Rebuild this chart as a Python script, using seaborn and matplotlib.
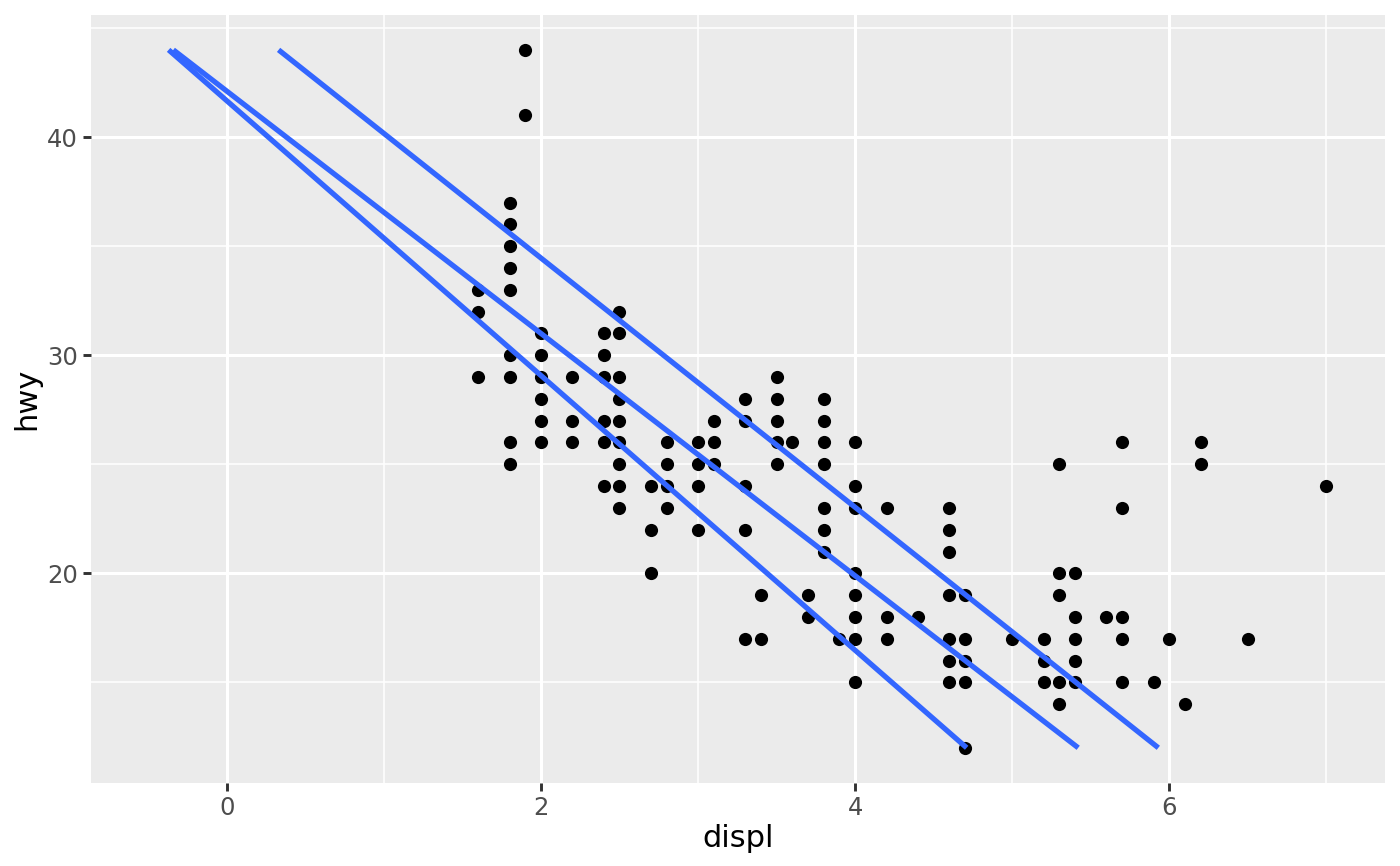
import pandas as pd
import matplotlib.pyplot as plt
import seaborn as sns

# hwy values seen at each displ (overlapping points drawn once)
displ_vals = [1.6, 1.8, 1.9, 2.0, 2.2, 2.4, 2.5, 2.7, 2.8, 3.0, 3.1, 3.3, 3.4,
              3.5, 3.6, 3.7, 3.8, 3.9, 4.0, 4.2, 4.4, 4.6, 4.7, 5.0, 5.2, 5.3,
              5.4, 5.6, 5.7, 5.9, 6.0, 6.1, 6.2, 6.5, 7.0]
hwy_by_displ = [
    [33, 32, 29],
    [37, 36, 35, 34, 33, 30, 29, 26, 25],
    [44, 41],
    [31, 30, 29, 28, 27, 26],
    [29, 27, 26],
    [31, 30, 29, 27, 26, 24],
    [32, 31, 29, 28, 27, 26, 25, 24, 23],
    [24, 22, 20],
    [26, 25, 24, 23],
    [26, 25, 24, 22],
    [27, 26, 25],
    [28, 27, 24, 22, 17],
    [19, 17],
    [29, 28, 27, 26, 25],
    [26],
    [19, 18],
    [28, 27, 26, 25, 23, 22, 21],
    [17],
    [26, 24, 23, 20, 19, 18, 17, 15],
    [23, 18, 17],
    [18],
    [23, 22, 21, 19, 17, 16, 15],
    [19, 17, 16, 15, 12],
    [17],
    [17, 16, 15],
    [25, 20, 19, 15, 14],
    [20, 18, 17, 16, 15],
    [18],
    [26, 23, 18, 17, 15],
    [15],
    [17],
    [14],
    [26, 25],
    [17],
    [24],
]

# quantile lines (displ on hwy), read at hwy = 12 and hwy = 44
line_hwy = [12, 44]
q25_displ = [4.71, -0.37]
q50_displ = [5.42, -0.34]
q75_displ = [5.93, 0.33]

pts = pd.DataFrame(
    [(d, h) for d, hs in zip(displ_vals, hwy_by_displ) for h in hs],
    columns=["displ", "hwy"],
)
lines = pd.concat([
    pd.DataFrame({"displ": q25_displ, "hwy": line_hwy, "q": "0.25"}),
    pd.DataFrame({"displ": q50_displ, "hwy": line_hwy, "q": "0.50"}),
    pd.DataFrame({"displ": q75_displ, "hwy": line_hwy, "q": "0.75"}),
])

fig = plt.figure(figsize=(14, 8.66), dpi=100)
ax = fig.add_axes([0.065, 0.0962, 0.9243, 0.8865])
ax.set_facecolor("#EBEBEB")

sns.scatterplot(data=pts, x="displ", y="hwy", color="black", s=90,
                linewidth=0, ax=ax, zorder=3)
sns.lineplot(data=lines, x="displ", y="hwy", hue="q",
             palette=["#3366FF"] * 3, estimator=None, sort=False,
             linewidth=3.8, solid_capstyle="butt", legend=False,
             ax=ax, zorder=4)

ax.set_xlim(-0.864, 7.373)
ax.set_ylim(10.4, 45.6)
ax.set_xticks([0, 2, 4, 6])
ax.set_yticks([20, 30, 40])
ax.set_xticks([1, 3, 5, 7], minor=True)
ax.set_yticks([15, 25, 35, 45], minor=True)
ax.grid(which="major", color="white", linewidth=2.2)
ax.grid(which="minor", color="white", linewidth=1.1)
ax.set_axisbelow(True)
for s in ax.spines.values():
    s.set_visible(False)

ax.tick_params(which="major", length=5.5, width=2.1, color="#333333",
               labelsize=17.5, labelcolor="#4D4D4D", pad=4)
ax.tick_params(which="minor", length=0)
ax.set_xlabel("displ", fontsize=22, labelpad=3)
ax.set_ylabel("hwy", fontsize=22, labelpad=4)

fig.savefig("out.png", dpi=100)
